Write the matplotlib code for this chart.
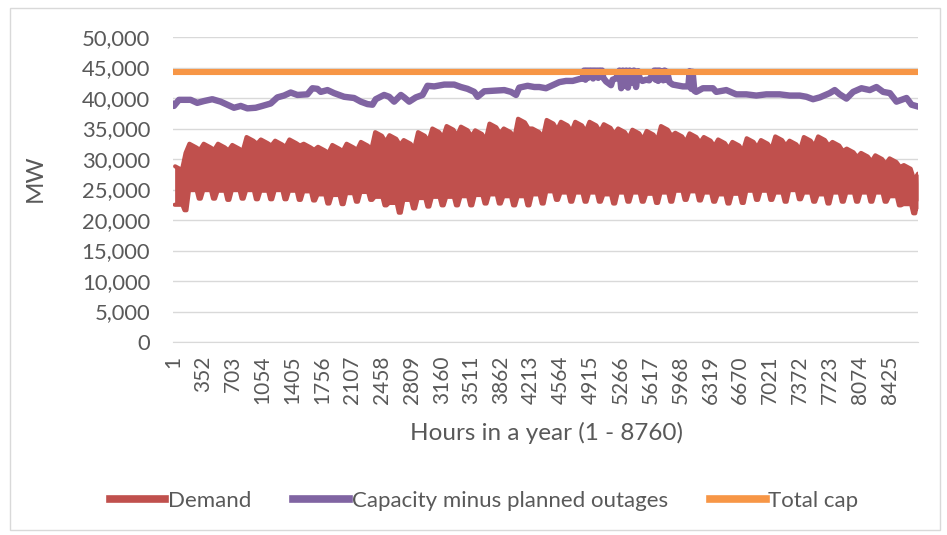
import matplotlib
matplotlib.use("Agg")
import matplotlib.pyplot as plt
from matplotlib.lines import Line2D
from matplotlib.patches import Rectangle
from matplotlib.ticker import FuncFormatter
import numpy as np

# weekly demand envelope (MW), week 0..52
peak_top = [28800, 32500, 32500, 32500, 32300, 33600, 33200, 33000, 33200, 32500, 32000, 32300, 32500,
            32800, 34400, 33900, 33100, 34400, 35000, 35400, 35300, 34700, 35800, 35000, 36600, 35000,
            36400, 36100, 36100, 36100, 35700, 35000, 34800, 34600, 35400, 34300, 34200, 33600, 33200, 32800,
            33400, 33100, 33700, 33000, 33600, 33700, 32800, 31700, 31000, 30600, 30100, 29000, 27600]
weekend_top = [31000, 31500, 31500, 31400, 31300, 32500, 32200, 32000, 32200, 31500, 31000, 31300, 31500,
               31600, 32800, 32300, 31700, 32900, 33500, 33800, 33700, 33100, 34200, 33400, 35000, 33500,
               34800, 34500, 34500, 34500, 34100, 33400, 33200, 33000, 33800, 32800, 32700, 32100, 31700, 31300,
               31900, 31600, 32200, 31500, 32100, 32200, 31300, 30300, 29600, 29200, 28700, 26500, 26000]
weekday_low = [22500, 24900, 24900, 24800, 24900, 24900, 24800, 24900, 24800, 24700, 24200, 24100, 24400,
               24600, 23800, 22800, 23300, 23600, 23800, 23800, 23900, 24100, 24200, 23900, 23900, 24200,
               24700, 24500, 24500, 24500, 24200, 24500, 24500, 24300, 24500, 24800, 24700, 24500, 24200, 24300,
               24800, 24800, 24500, 24900, 24500, 24200, 24500, 24500, 24500, 24500, 23900, 22600, 23200]
weekend_low = [21600, 23500, 23500, 23300, 23500, 23400, 23400, 23400, 23300, 23200, 22700, 22600, 23000,
               23300, 22400, 21200, 21900, 22200, 22400, 22400, 22400, 22700, 22700, 22400, 22400, 22700,
               23300, 23000, 23000, 23000, 22700, 23000, 23000, 22800, 23000, 23300, 23200, 23000, 22700, 22800,
               23300, 23300, 23000, 23400, 23000, 22700, 23000, 23000, 23000, 23000, 22400, 21100, 21900]

# capacity minus planned outages (hour, MW)
cap_hours = [1, 12, 71, 208, 286, 365, 463, 561, 640, 718,
             797, 875, 973, 1051, 1150, 1228, 1306, 1385, 1463, 1581,
             1640, 1699, 1738, 1817, 1895, 2013, 2130, 2209, 2287, 2346,
             2385, 2483, 2542, 2601, 2680, 2719, 2778, 2856, 2935, 2993,
             3072, 3190, 3307, 3386, 3464, 3543, 3582, 3660, 3778, 3896,
             3975, 4034, 4072, 4170, 4249, 4308, 4386, 4465, 4543, 4622,
             4700, 4779, 4820, 4835, 4850, 4865, 4880, 4895, 4910, 4925,
             4940, 4955, 4970, 4985, 5000, 5015, 5030, 5045, 5060, 5093,
             5151, 5170, 5210, 5250, 5270, 5290, 5310, 5330, 5350, 5370,
             5400, 5420, 5445, 5470, 5485, 5520, 5563, 5600, 5660, 5675,
             5690, 5705, 5720, 5735, 5750, 5765, 5780, 5795, 5810, 5838,
             5877, 5995, 6060, 6075, 6095, 6110, 6130, 6152, 6231, 6349,
             6388, 6506, 6623, 6741, 6859, 6977, 7134, 7251, 7369, 7448,
             7526, 7605, 7722, 7781, 7840, 7919, 7997, 8095, 8193, 8272,
             8350, 8429, 8507, 8566, 8625, 8684, 8760]
cap_mw = [38900, 38700, 39700, 39700, 39200, 39500, 39800, 39400, 38900, 38400,
          38700, 38300, 38400, 38700, 39100, 40100, 40400, 40900, 40500, 40600,
          41600, 41500, 41000, 41300, 40800, 40200, 40000, 39400, 39000, 38900,
          39800, 40500, 40200, 39400, 40500, 40100, 39400, 40100, 40500, 42000,
          41900, 42200, 42200, 41800, 41500, 41000, 40200, 41100, 41200, 41300,
          41000, 40500, 41700, 42000, 41800, 41800, 41600, 42100, 42600, 42800,
          42800, 43100, 43200, 44500, 43000, 44500, 43300, 44500, 43500, 44500,
          43200, 44500, 43600, 44500, 43300, 44500, 43500, 44500, 43300, 42700,
          42100, 43000, 43200, 44500, 41600, 44500, 42000, 44500, 41700, 44500,
          42500, 44500, 41800, 44400, 43300, 42800, 43000, 42900, 44500, 43000,
          44500, 42800, 44500, 43200, 44400, 42900, 44500, 43000, 44300, 42600,
          42200, 41900, 41900, 44400, 41500, 44300, 41200, 41000, 41600, 41600,
          41000, 41300, 40600, 40600, 40400, 40600, 40600, 40400, 40400, 40200,
          39800, 40100, 40800, 41300, 40600, 39900, 41000, 41600, 41300, 41800,
          41000, 40800, 39400, 39700, 40000, 38900, 38600]

total_cap = 44200
x_labels = list(range(1, 8761, 351))

RED = "#C0504D"
PURPLE = "#8064A2"
ORANGE = "#F79646"
GRID = "#D9D9D9"
TEXT = "#595959"

plt.rcParams["font.family"] = ["Lato", "DejaVu Sans"]

fig = plt.figure(figsize=(9.47, 5.35), dpi=100)
ax = fig.add_axes([173 / 947, 1 - 342 / 535, (918 - 173) / 947, (342 - 37) / 535])

# demand band: weekday plateau and weekend stretch of each week
top_x, top_y, low_x, low_y = [], [], [], []
for w in range(len(peak_top)):
    h0 = 1 + 168 * w
    top_x += [h0 + 25, h0 + 105, h0 + 148]
    top_y += [peak_top[w], peak_top[w] - 600, weekend_top[w]]
    low_x += [h0 + 20, h0 + 110, h0 + 135, h0 + 158]
    low_y += [weekday_low[w], weekday_low[w], weekend_low[w], weekend_low[w]]
top_x = np.clip(top_x, 1, 8760)
low_x = np.clip(low_x, 1, 8760)
ax.fill_between(top_x, np.interp(top_x, low_x, low_y), top_y, color=RED, lw=0, zorder=2)
ax.fill_between(low_x, low_y, np.interp(low_x, top_x, top_y), color=RED, lw=0, zorder=2)
ax.plot(top_x, top_y, color=RED, lw=3, solid_joinstyle="round", solid_capstyle="round", zorder=2)
ax.plot(low_x, low_y, color=RED, lw=3, solid_joinstyle="round", solid_capstyle="round", zorder=2)

ax.plot(cap_hours, cap_mw, color=PURPLE, lw=4.6, solid_joinstyle="round", zorder=3)
ax.plot([1, 8760], [total_cap, total_cap], color=ORANGE, lw=4.4, zorder=4)

ax.set_xlim(1, 8760)
ax.set_ylim(0, 50000)
ax.set_yticks(range(0, 50001, 5000))
ax.yaxis.set_major_formatter(FuncFormatter(lambda v, p: f"{int(v):,}"))
ax.set_xticks(x_labels)
ax.set_xticklabels([str(v) for v in x_labels], rotation=90)
ax.grid(axis="y", color=GRID, lw=1, zorder=0)
ax.set_axisbelow(True)
for s in ["left", "right", "top"]:
    ax.spines[s].set_visible(False)
ax.spines["bottom"].set_color(GRID)
ax.tick_params(length=0, labelsize=15, labelcolor=TEXT)
ax.tick_params(axis="y", labelsize=15.8, pad=16.5)
ax.tick_params(axis="x", pad=10)

fig.text(546 / 947, 1 - 433 / 535, "Hours in a year (1 - 8760)", ha="center", va="center",
         fontsize=17.5, color=TEXT)
fig.text(35 / 947, 1 - 178 / 535, "MW", ha="center", va="center", rotation=90,
         fontsize=17.5, color=TEXT)

handles = [Line2D([], [], color=RED, lw=5.5),
           Line2D([], [], color=PURPLE, lw=5.5),
           Line2D([], [], color=ORANGE, lw=5.5)]
fig.legend(handles, ["Demand", "Capacity minus planned outages", "Total cap"],
           loc="center", bbox_to_anchor=(484 / 947, 1 - 501 / 535), ncol=3, frameon=False,
           fontsize=16, labelcolor=TEXT, handlelength=2.5, handletextpad=0.12, columnspacing=1.9)

fig.patches.append(Rectangle((10 / 947, 1 - 530 / 535), 930 / 947, 522 / 535, transform=fig.transFigure,
                             fill=False, ec=GRID, lw=1, clip_on=False))

fig.savefig("out.png", dpi=100)
